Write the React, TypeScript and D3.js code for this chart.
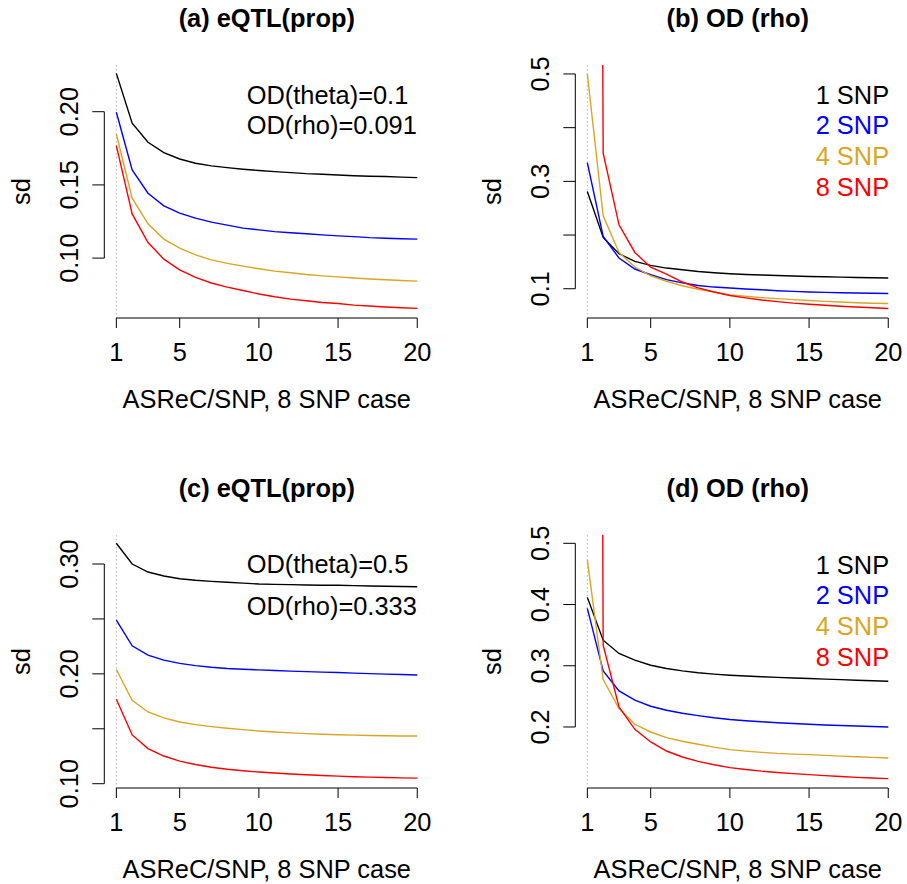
import React from "react";
import * as d3 from "d3";

// ASReC per SNP
const xValues = [1, 2, 3, 4, 5, 6, 7, 8, 9, 10, 11, 12, 13, 14, 15, 16, 17, 18, 19, 20];

const seriesNames = ["1 SNP", "2 SNP", "4 SNP", "8 SNP"];
const seriesColors = ["#000000", "#0000ff", "#daa520", "#ff0000"];

// (a) eQTL(prop), theta = 0.1
const aSnp1 = [0.2262, 0.1921, 0.1791, 0.172, 0.1677, 0.1648, 0.163, 0.1618, 0.1607, 0.1598, 0.1591, 0.1584, 0.1577, 0.1573, 0.1568, 0.1563, 0.1559, 0.1557, 0.1553, 0.155];
const aSnp2 = [0.1996, 0.1602, 0.1443, 0.1357, 0.1307, 0.1273, 0.1246, 0.1225, 0.1205, 0.1193, 0.1181, 0.1173, 0.1166, 0.1159, 0.1152, 0.1147, 0.114, 0.1136, 0.1132, 0.113];
const aSnp4 = [0.1848, 0.1409, 0.1234, 0.113, 0.1068, 0.1022, 0.0988, 0.0964, 0.0945, 0.0927, 0.0911, 0.09, 0.0888, 0.0879, 0.0872, 0.0864, 0.0857, 0.0852, 0.0847, 0.0843];
const aSnp8 = [0.1768, 0.1302, 0.1106, 0.0993, 0.092, 0.0868, 0.083, 0.0802, 0.0779, 0.0755, 0.0736, 0.072, 0.0709, 0.0697, 0.069, 0.0679, 0.0673, 0.0666, 0.0661, 0.0657];

// (b) OD (rho), theta = 0.1
const bSnp1 = [0.281, 0.1955, 0.1651, 0.1508, 0.1434, 0.1385, 0.1354, 0.132, 0.1298, 0.1279, 0.1266, 0.1257, 0.1247, 0.1238, 0.1229, 0.1223, 0.1217, 0.121, 0.1205, 0.12];
const bSnp2 = [0.335, 0.1973, 0.1571, 0.1367, 0.126, 0.117, 0.111, 0.106, 0.1031, 0.1013, 0.0994, 0.0981, 0.0963, 0.095, 0.094, 0.0932, 0.0926, 0.092, 0.0916, 0.0911];
const bSnp4 = [0.5, 0.2358, 0.1676, 0.1404, 0.1242, 0.114, 0.1055, 0.099, 0.094, 0.0885, 0.086, 0.0835, 0.0815, 0.0797, 0.078, 0.0765, 0.0752, 0.074, 0.073, 0.0725];
const bSnp8 = [7.0, 0.3525, 0.219, 0.1676, 0.14, 0.1274, 0.1125, 0.1015, 0.094, 0.0875, 0.083, 0.079, 0.076, 0.0732, 0.0712, 0.0692, 0.0675, 0.066, 0.0645, 0.0632];

// (c) eQTL(prop), theta = 0.5
const cSnp1 = [0.3189, 0.3, 0.2927, 0.2891, 0.2866, 0.2852, 0.2842, 0.2834, 0.2826, 0.2818, 0.2815, 0.2812, 0.2809, 0.2807, 0.2806, 0.2803, 0.28, 0.2798, 0.2795, 0.2793];
const cSnp2 = [0.2489, 0.2255, 0.217, 0.2125, 0.2095, 0.2075, 0.206, 0.2049, 0.2042, 0.2036, 0.203, 0.2025, 0.202, 0.2016, 0.2012, 0.2007, 0.2002, 0.1998, 0.1994, 0.199];
const cSnp4 = [0.204, 0.176, 0.1653, 0.1599, 0.1562, 0.1538, 0.152, 0.1505, 0.1492, 0.148, 0.1471, 0.1463, 0.1456, 0.145, 0.1446, 0.1442, 0.1439, 0.1437, 0.1435, 0.1434];
const cSnp8 = [0.1769, 0.1444, 0.132, 0.1252, 0.1205, 0.1175, 0.115, 0.1132, 0.1118, 0.1106, 0.1097, 0.1089, 0.1081, 0.1075, 0.1069, 0.1064, 0.106, 0.1056, 0.1053, 0.1051];

// (d) OD (rho), theta = 0.5
const dSnp1 = [0.4117, 0.3418, 0.32, 0.3091, 0.3009, 0.2955, 0.2916, 0.2885, 0.2863, 0.2846, 0.2833, 0.2821, 0.281, 0.28, 0.2792, 0.2782, 0.2773, 0.2764, 0.2755, 0.2747];
const dSnp2 = [0.3937, 0.2916, 0.2589, 0.2437, 0.2338, 0.2273, 0.2225, 0.2185, 0.215, 0.2121, 0.2101, 0.2085, 0.207, 0.2056, 0.2044, 0.2033, 0.2024, 0.2015, 0.2007, 0.2];
const dSnp4 = [0.4727, 0.2775, 0.2301, 0.2044, 0.1918, 0.1826, 0.1766, 0.1717, 0.167, 0.163, 0.1605, 0.1585, 0.1568, 0.1557, 0.1548, 0.1536, 0.1524, 0.1513, 0.1503, 0.1493];
const dSnp8 = [7.0, 0.3336, 0.2327, 0.1962, 0.1755, 0.1607, 0.1509, 0.1439, 0.1383, 0.1336, 0.1305, 0.1278, 0.1257, 0.1238, 0.1221, 0.1205, 0.119, 0.1177, 0.1166, 0.1156];

const xTicks = [1, 5, 10, 15, 20];
const aTicks = [0.1, 0.15, 0.2];
const aLabels = ["0.10", "0.15", "0.20"];
const bTicks = [0.1, 0.2, 0.3, 0.4, 0.5];
const bLabels = ["0.1", "", "0.3", "", "0.5"];
const cTicks = [0.1, 0.15, 0.2, 0.25, 0.3];
const cLabels = ["0.10", "", "0.20", "", "0.30"];
const dTicks = [0.2, 0.3, 0.4, 0.5];
const dLabels = ["0.2", "0.3", "0.4", "0.5"];

const xLabel = "ASReC/SNP, 8 SNP case";
const yLabel = "sd";

const FONT = "'Liberation Sans', Arial, Helvetica, sans-serif";
const FS = 25.4;

type PanelProps = {
  id: string;
  title: string;
  left: number;
  top: number;
  yDomain: [number, number];
  series: number[][];
  yTicks: number[];
  yLabels: string[];
  notes?: { text: string; dy: number }[];
  legend?: boolean;
};

function Panel(p: PanelProps) {
  const width = 325;
  const bottom = p.top + 253;
  const right = p.left + width;
  const x = d3.scaleLinear().domain([0.24, 20.76]).range([p.left, right]);
  const y = d3.scaleLinear().domain(p.yDomain).range([bottom, p.top]);
  const line = d3
    .line<number>()
    .x((_, i) => x(xValues[i]))
    .y((d) => y(d));
  const cx = (p.left + right) / 2;
  const cy = (p.top + bottom) / 2;
  const legendDy = [38.7, 69.2, 99.7, 130.8];

  return (
    <g fontFamily={FONT}>
      <clipPath id={"clip-" + p.id}>
        <rect x={p.left} y={p.top} width={width} height={bottom - p.top} />
      </clipPath>
      <text x={cx} y={p.top - 38.5} textAnchor="middle" fontWeight="bold" fontSize={FS}>
        {p.title}
      </text>
      <line
        x1={x(1)}
        x2={x(1)}
        y1={p.top}
        y2={bottom}
        stroke="#b4b4b4"
        strokeWidth={1}
        strokeDasharray="1.5 2.5"
      />
      <g clipPath={`url(#clip-${p.id})`}>
        {p.series.map((s, i) => (
          <path key={i} d={line(s) || ""} fill="none" stroke={seriesColors[i]} strokeWidth={1.4} />
        ))}
      </g>
      {/* x axis */}
      <line x1={x(1)} x2={x(20)} y1={bottom} y2={bottom} stroke="#000" strokeWidth={1} />
      {xTicks.map((t) => (
        <g key={t}>
          <line x1={x(t)} x2={x(t)} y1={bottom} y2={bottom + 10} stroke="#000" strokeWidth={1} />
          <text x={x(t)} y={bottom + 42.5} textAnchor="middle" fontSize={FS}>
            {t}
          </text>
        </g>
      ))}
      <text x={cx} y={bottom + 90} textAnchor="middle" fontSize={FS}>
        {xLabel}
      </text>
      {/* y axis */}
      <line
        x1={p.left}
        x2={p.left}
        y1={y(p.yTicks[0])}
        y2={y(p.yTicks[p.yTicks.length - 1])}
        stroke="#000"
        strokeWidth={1}
      />
      {p.yTicks.map((t, i) => (
        <g key={t}>
          <line x1={p.left - 12} x2={p.left} y1={y(t)} y2={y(t)} stroke="#000" strokeWidth={1} />
          {p.yLabels[i] && (
            <text
              transform={`translate(${p.left - 26},${y(t)}) rotate(-90)`}
              textAnchor="middle"
              fontSize={FS}
            >
              {p.yLabels[i]}
            </text>
          )}
        </g>
      ))}
      <text transform={`translate(${p.left - 74.3},${cy}) rotate(-90)`} textAnchor="middle" fontSize={FS}>
        {yLabel}
      </text>
      {p.notes &&
        p.notes.map((n, i) => (
          <text key={i} x={p.left + 142.4} y={p.top + n.dy} fontSize={FS}>
            {n.text}
          </text>
        ))}
      {p.legend &&
        seriesNames.map((name, i) => (
          <text key={name} x={p.left + 240.4} y={p.top + legendDy[i]} fontSize={FS} fill={seriesColors[i]}>
            {name}
          </text>
        ))}
    </g>
  );
}

export default function App() {
  return (
    <svg
      width={907}
      height={884}
      style={{ position: "absolute", left: 0, top: 0, background: "#fff", display: "block" }}
    >
      <rect width={907} height={884} fill="#fff" />
      <Panel
        id="a"
        title="(a) eQTL(prop)"
        left={104.3}
        top={65}
        yDomain={[0.0591, 0.2319]}
        series={[aSnp1, aSnp2, aSnp4, aSnp8]}
        yTicks={aTicks}
        yLabels={aLabels}
        notes={[
          { text: "OD(theta)=0.1", dy: 39.3 },
          { text: "OD(rho)=0.091", dy: 69.3 },
        ]}
      />
      <Panel
        id="b"
        title="(b) OD (rho)"
        left={575.3}
        top={65}
        yDomain={[0.0455, 0.5167]}
        series={[bSnp1, bSnp2, bSnp4, bSnp8]}
        yTicks={bTicks}
        yLabels={bLabels}
        legend
      />
      <Panel
        id="c"
        title="(c) eQTL(prop)"
        left={104.3}
        top={535}
        yDomain={[0.0961, 0.3264]}
        series={[cSnp1, cSnp2, cSnp4, cSnp8]}
        yTicks={cTicks}
        yLabels={cLabels}
        notes={[
          { text: "OD(theta)=0.5", dy: 38.3 },
          { text: "OD(rho)=0.333", dy: 80 },
        ]}
      />
      <Panel
        id="d"
        title="(d) OD (rho)"
        left={575.3}
        top={535}
        yDomain={[0.1003, 0.5136]}
        series={[dSnp1, dSnp2, dSnp4, dSnp8]}
        yTicks={dTicks}
        yLabels={dLabels}
        legend
      />
    </svg>
  );
}
